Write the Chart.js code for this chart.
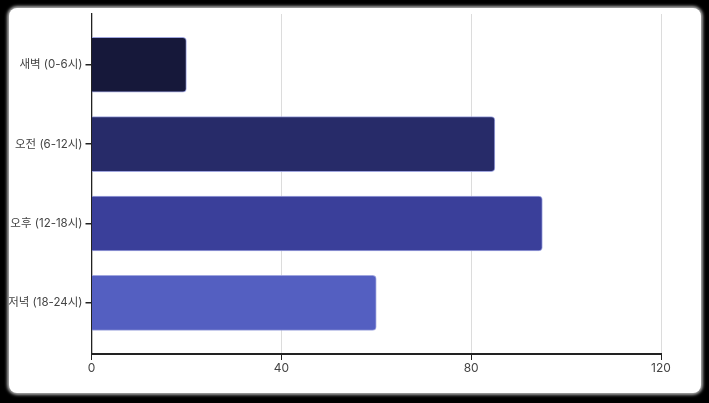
<!DOCTYPE html>
<html lang="ko">
<head>
  <meta charset="UTF-8">
  <title>시간대별 분포</title>
  <script src="https://cdn.jsdelivr.net/npm/chart.js"></script>
  <style>
    html, body { margin: 0; padding: 0; background: #000; }
    #card {
      position: absolute; left: 9px; top: 8px; width: 692px; height: 385px;
      background: #fff; border-radius: 8px;
      box-shadow: 0 0 3px 2px rgba(190,190,190,0.9);
    }
    #wrap { position: absolute; left: 0; top: 0; width: 709px; height: 403px; }
  </style>
</head>
<body>
  <div id="card"></div>
  <div id="wrap"><canvas id="chart"></canvas></div>
  <script>
    // 시간대 구분과 값
    const categories = ['새벽 (0-6시)', '오전 (6-12시)', '오후 (12-18시)', '저녁 (18-24시)'];
    const values = [20, 85, 95, 60];
    const xTicks = [0, 40, 80, 120];

    const barColors = ['#16183a', '#272b69', '#3a3f9a', '#545fc1'];
    const fontFamily = "Inter, 'Noto Sans CJK KR', sans-serif";

    new Chart(document.getElementById('chart'), {
      type: 'bar',
      data: {
        datasets: [{
          data: values.map((v, i) => ({ x: v, y: i })),
          backgroundColor: barColors,
          borderColor: 'rgba(150,156,220,0.9)',
          borderWidth: 1,
          borderRadius: 4,
          barThickness: 55
        }]
      },
      options: {
        indexAxis: 'y',
        responsive: true,
        maintainAspectRatio: false,
        animation: false,
        layout: { padding: { top: 14, right: 48, left: 0, bottom: 0 } },
        plugins: { legend: { display: false }, tooltip: { enabled: false } },
        scales: {
          x: {
            type: 'linear',
            min: 0,
            max: 120,
            afterBuildTicks: s => { s.ticks = xTicks.map(v => ({ value: v })); },
            afterFit: s => { s.height = 49; },
            grid: { color: '#dcdcdc', lineWidth: 1, tickColor: '#222', tickLength: 6 },
            border: { color: '#222', width: 2 },
            ticks: { color: '#444', padding: 1, font: { family: fontFamily, size: 12 } }
          },
          y: {
            type: 'linear',
            reverse: true,
            offset: false,
            min: -0.64,
            max: 3.645,
            afterBuildTicks: s => { s.ticks = categories.map((_, i) => ({ value: i })); },
            afterFit: s => { s.width = 91.5; },
            grid: { offset: false, drawOnChartArea: false, tickColor: '#222', tickLength: 6, lineWidth: 1.5 },
            border: { color: '#222', width: 1.3 },
            ticks: {
              color: '#444',
              padding: 3,
              font: { family: fontFamily, size: 11.5 },
              callback: v => categories[v]
            }
          }
        }
      }
    });
  </script>
</body>
</html>
